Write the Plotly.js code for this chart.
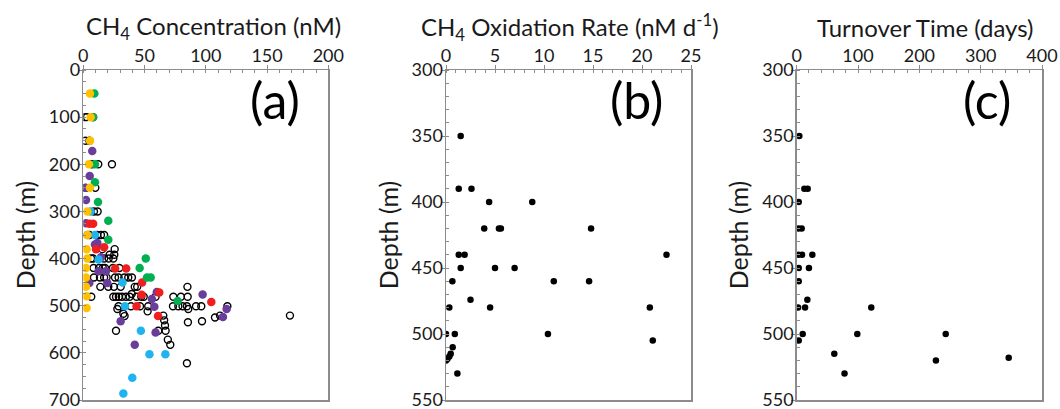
<!DOCTYPE html>
<html><head><meta charset="utf-8">
<script src="https://cdn.plot.ly/plotly-3.0.1.min.js"></script>
<style>html,body{margin:0;padding:0;background:#fff}#chart{width:1060px;height:409px}</style>
</head><body><div id="chart"></div>
<script>
// Panel (a): CH4 concentration (nM) vs depth (m), one array pair per colour series
const yellowConc  = [5.4, 6, 5.5, 4.6, 5.4, 3.3, 3.3, 2.7, 3.3, 2.2, 2.2, 2.2, 2.7, 2.7];
const yellowDepth = [50, 100, 150, 200, 250, 300, 350, 380, 400, 420, 440, 460, 480, 505];

const greenConc  = [9, 8, 9.5, 9.5, 12, 20.4, 20.4, 51, 46, 52, 55, 77];
const greenDepth = [50, 100, 200, 238, 280, 320, 360, 400, 420, 440, 440, 490];

const purpleConc  = [7.3, 5.2, 1.6, 2.2, 2.2, 3.3, 9.5, 11.5, 14.4, 12.5, 18.5, 4.9, 19.6, 60, 56, 58, 97.4, 117, 114, 30.5, 59, 42];
const purpleDepth = [172, 225, 250, 276, 325, 350, 370, 367, 397, 427, 427, 452, 452, 471, 486, 502, 476, 507, 524, 533, 557, 583];

const redConc  = [5, 8, 10.4, 17, 26, 35, 48, 47.6, 62, 43.5, 104.5, 61];
const redDepth = [326, 326, 380, 376, 421, 421, 451, 477, 472, 501, 492, 522];

const cyanConc  = [6, 9.5, 12.5, 32, 34, 47, 54, 67, 40, 32.7];
const cyanDepth = [300, 350, 402, 451, 501, 553, 603, 603, 653, 686];

const openConc = [1.5, 3, 8, 1.6, 5, 7, 12.2, 23.4, 2, 9.8, 8.7, 11.7, 5, 11.4, 14.4, 17,
  25.6, 15.5, 21.5, 25.3, 6.3, 8, 17, 20.7, 24.5,
  8.4, 12.8, 16, 17.7, 24.2, 29.4,
  8.7, 13.6, 17, 19, 25.9, 28.8, 33.5, 36.7, 39.7,
  13.9, 20.4, 25, 30.5, 42, 44, 85, 39.5,
  6.5, 24.5, 26.7, 29, 31.6, 34.8, 37.8, 43.5, 47.3, 49.3, 59, 73.5, 79.7, 85.2,
  28.8, 38.9, 46.3, 53, 73.2, 77.6, 81, 84.6, 92, 96.3, 117.6,
  27.8, 85.7, 52.5, 32.7, 33.7, 65.3, 111.6, 168.7, 107.5, 66, 85.4, 96.9, 66.7,
  26.7, 61.2, 67.2, 69, 71, 84.6];
const openDepth = [100, 100, 100, 150, 150, 200, 200, 200, 250, 250, 300, 300, 350, 350, 350, 350,
  380, 380, 392, 392, 400, 400, 400, 400, 400,
  420, 420, 420, 420, 420, 420,
  440, 440, 440, 440, 440, 440, 440, 440, 440,
  460, 460, 460, 460, 460, 460, 460, 475,
  481, 481, 481, 481, 481, 481, 481, 481, 481, 481, 481, 481, 481, 481,
  501, 501, 501, 501, 501, 501, 501, 501, 501, 501, 501,
  507, 507, 512, 517, 522, 521, 521, 521, 525, 531, 535, 533, 542,
  553, 553, 553, 572, 583, 622];

// Panel (b): CH4 oxidation rate (nM d-1)
const rateVal   = [1.5, 1.3, 2.6, 4.4, 8.8, 3.9, 5.4, 5.6, 14.8, 1.3, 1.9, 22.5, 1.5, 5.0, 7.0, 0.65, 11.0, 14.6, 2.5, 0.34, 4.5, 20.8, 0, 0.9, 10.4, 21.1, 0.68, 0.48, 0.34, 0.14, 0, 1.16];
const rateDepth = [350, 390, 390, 400, 400, 420, 420, 420, 420, 440, 440, 440, 450, 450, 450, 460, 460, 460, 474, 480, 480, 480, 500, 500, 500, 505, 510, 515, 517, 519, 520, 530];

// Panel (c): turnover time (days)
const turnVal   = [4.3, 12.5, 17.9, 3.3, 2.7, 8.1, 2.7, 8.7, 25.5, 3.3, 20, 3.3, 17.4, 2.2, 13.6, 121.6, 9.8, 98.8, 243, 3.3, 61.3, 227, 345.7, 78];
const turnDepth = [350, 390, 390, 400, 420, 420, 440, 440, 440, 450, 450, 460, 474, 480, 480, 480, 500, 500, 500, 505, 515, 520, 518, 530];

const titles = ['CH<sub>4</sub> Concentration (nM)', 'CH<sub>4</sub> Oxidation Rate (nM d<sup>-1</sup>)', 'Turnover Time (days)'];

const FONT = 'Lato, "Open Sans", sans-serif';
const AX = '#8c8c8c';
const TXT = '#1a1a1a';

function xaxis(domain, range, dtick, mdtick, anchor) {
  return {
    domain: domain, range: range, side: 'top', anchor: anchor,
    tick0: 0, dtick: dtick, ticks: 'outside', ticklen: 4, tickwidth: 1, tickcolor: AX,
    ticklabelstandoff: -5, ticklabeloverflow: 'allow',
    linecolor: AX, linewidth: 1.5, mirror: true, showgrid: false, zeroline: false,
    minor: {dtick: mdtick, ticks: 'inside', ticklen: 3, tickcolor: AX, showgrid: false},
    tickfont: {family: FONT, size: 18, color: TXT},
    fixedrange: true
  };
}
function yaxis(range, dtick, mdtick, anchor) {
  return {
    domain: [0, 1], range: range, anchor: anchor,
    tick0: 0, dtick: dtick, ticks: 'outside', ticklen: 4, tickwidth: 1, tickcolor: AX,
    ticklabelstandoff: -6, ticklabeloverflow: 'allow',
    linecolor: AX, linewidth: 1.5, mirror: true, showgrid: false, zeroline: false,
    minor: {dtick: mdtick, ticks: 'inside', ticklen: 3, tickcolor: AX, showgrid: false},
    tickfont: {family: FONT, size: 18, color: TXT},
    title: {text: 'Depth (m)', font: {family: FONT, size: 25, color: TXT}, standoff: 6},
    fixedrange: true
  };
}

function filled(x, y, color, xa, ya, size) {
  return {x: x, y: y, xaxis: xa, yaxis: ya, type: 'scatter', mode: 'markers',
    marker: {color: color, size: size || 8.5, line: {width: 0}}, hoverinfo: 'x+y'};
}

const traces = [
  {x: openConc, y: openDepth, xaxis: 'x', yaxis: 'y', type: 'scatter', mode: 'markers',
   marker: {symbol: 'circle-open', color: '#000', size: 7, line: {width: 1.4, color: '#000'}}},
  filled(purpleConc, purpleDepth, '#6a3d9a', 'x', 'y'),
  filled(redConc, redDepth, '#f01e1e', 'x', 'y'),
  filled(greenConc, greenDepth, '#00b050', 'x', 'y'),
  filled(cyanConc, cyanDepth, '#1fb4f0', 'x', 'y'),
  filled(yellowConc, yellowDepth, '#ffc000', 'x', 'y'),
  filled(rateVal, rateDepth, '#000', 'x2', 'y2', 6.5),
  filled(turnVal, turnDepth, '#000', 'x3', 'y3', 6.5)
];

const W = 1060;
function label(t, xr, yr, x) {
  return {text: t, xref: xr, yref: yr, x: x, y: 0.91, xanchor: 'center', yanchor: 'middle',
    showarrow: false, font: {family: FONT, size: 50, color: '#000'}};
}
function xtitle(t, xr, x) {
  return {text: t, xref: xr, yref: 'paper', x: x, y: 1.13, xanchor: 'center', yanchor: 'middle',
    showarrow: false, font: {family: FONT, size: 24, color: TXT}};
}
const layout = {
  width: 1060, height: 409,
  margin: {l: 0, r: 0, t: 70, b: 9},
  paper_bgcolor: '#fff', plot_bgcolor: '#fff',
  showlegend: false,
  xaxis:  xaxis([83.3 / W, 328.3 / W], [0, 200], 50, 10, 'y'),
  yaxis:  yaxis([700, 0], 100, 25, 'x'),
  xaxis2: xaxis([446 / W, 691 / W], [0, 25], 5, 1, 'y2'),
  yaxis2: yaxis([550, 300], 50, 10, 'x2'),
  xaxis3: xaxis([796.7 / W, 1042 / W], [0, 400], 100, 20, 'y3'),
  yaxis3: yaxis([550, 300], 50, 10, 'x3'),
  annotations: [
    xtitle(titles[0], 'x domain', 0.53),
    xtitle(titles[1], 'x2 domain', 0.506),
    xtitle(titles[2], 'x3 domain', 0.524),
    label('(a)', 'x domain', 'y domain', 0.782),
    label('(b)', 'x2 domain', 'y2 domain', 0.778),
    label('(c)', 'x3 domain', 'y3 domain', 0.774)
  ]
};

Plotly.newPlot('chart', traces, layout, {displayModeBar: false, staticPlot: true});
</script>
</body></html>
